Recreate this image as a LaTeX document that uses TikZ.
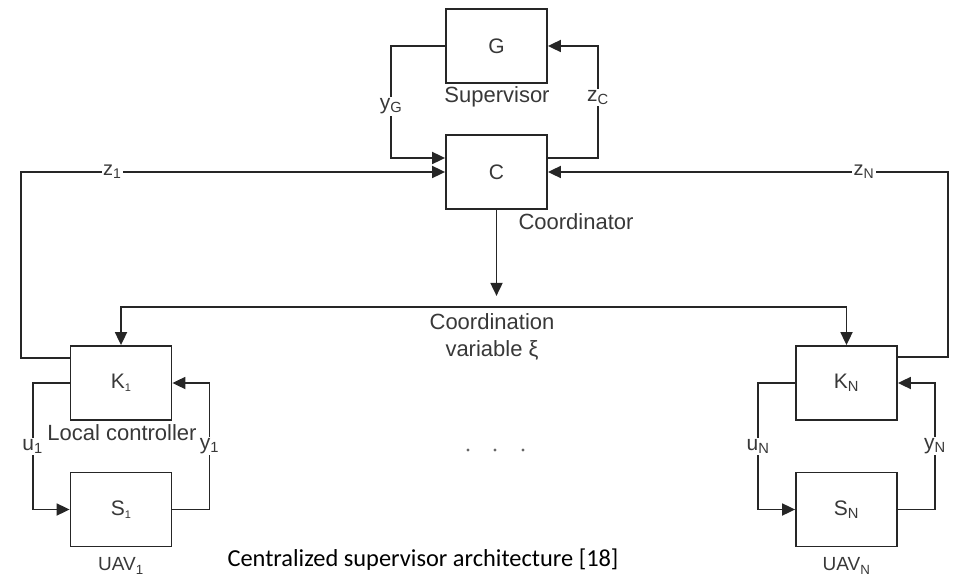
\documentclass[tikz,border=0pt]{standalone}
\usepackage{fontspec}
\setmainfont{Liberation Sans}
\newfontfamily\captionfont{Carlito}
\usetikzlibrary{arrows.meta}
\newcommand\setfs[1]{\fontsize{#1}{1.2\dimexpr#1pt\relax}\selectfont}
\newcommand\lowone{\raisebox{-3pt}{\setfs{11}1}}

\begin{document}
\begin{tikzpicture}[x=1pt,y=-1pt,
  blk/.style={draw=black!85, line width=1.8pt, minimum width=101pt,
    minimum height=74pt, inner sep=0pt, text=black!78, font=\setfs{21}},
  wire/.style={line width=1.8pt, draw=black!85},
  tip/.tip={Triangle[length=13pt,width=12pt]},
  arr/.style={wire, -tip},
  lbl/.style={fill=white, inner sep=1.5pt, text=black!78, font=\setfs{21}},
  txt/.style={text=black!78, inner sep=0pt, font=\setfs{22}}]
\useasboundingbox (0,0) rectangle (955,577);

% blocks
\node[blk] (G)  at (496.5,46)  {G};
\node[blk] (C)  at (496.5,172) {C};
\node[blk] (K1) at (121,383)   {K\lowone};
\node[blk] (S1) at (121,509.5) {S\lowone};
\node[blk] (KN) at (846.5,383) {K\textsubscript{N}};
\node[blk] (SN) at (846.5,509.5) {S\textsubscript{N}};

% block captions
\node[txt] (sup)  at (497,97)  {Supervisor};
\node[txt] (coor) at (576,222) {Coordinator};
\node[txt] (loc)  at (122,433) {Local controller};
\node[txt, font=\setfs{19}] (uav1) at (121,566) {UAV\textsubscript{1}};
\node[txt, font=\setfs{19}] (uavN) at (846.5,566) {UAV\textsubscript{N}};

% supervisor loop
\draw[arr] (G.west) -- ++(-54,0) |- ([yshift=14pt]C.west)
  node[lbl, pos=0.27] {y\textsubscript{G}};
\draw[arr] ([yshift=14pt]C.east) -- ++(50,0) |- (G.east)
  node[lbl, pos=0.27] {z\textsubscript{C}};

% reports from the local controllers
\draw[arr] ([yshift=25pt]K1.west) -- ++(-49,0) |- (C.west)
  node[lbl, font=\setfs{20}, pos=0.608] {z\textsubscript{1}};
\draw[arr] ([yshift=26pt]KN.east) -- ++(50,0) |- (C.east)
  node[lbl, font=\setfs{20}, pos=0.605] {z\textsubscript{N}};

% coordination variable broadcast
\draw[arr] (C.south) -- ++(0,86);
\draw[wire, tip-tip] (K1.north) -- ++(0,-38) -| (KN.north);
\node[txt, align=center] (xi) at (492,337)
  {Coordination\\variable ξ};

% local loops
\draw[arr] (K1.west) -- ++(-37,0) |- (S1.west)
  node[lbl, pos=0.25] {u\textsubscript{1}};
\draw[arr] (S1.east) -- ++(37,0) |- (K1.east)
  node[lbl, pos=0.25] {y\textsubscript{1}};
\draw[arr] (KN.west) -- ++(-37,0) |- (SN.west)
  node[lbl, pos=0.25] {u\textsubscript{N}};
\draw[arr] (SN.east) -- ++(37,0) |- (KN.east)
  node[lbl, pos=0.25] {y\textsubscript{N}};

% ellipsis between the vehicles
\foreach \x in {468,495,523} \fill[black!60] (\x,450) circle (1.7);

% caption
\node[inner sep=0pt, font=\captionfont\setfs{24.4}] (title) at (423,560)
  {Centralized supervisor architecture [18]};
\end{tikzpicture}
\end{document}
